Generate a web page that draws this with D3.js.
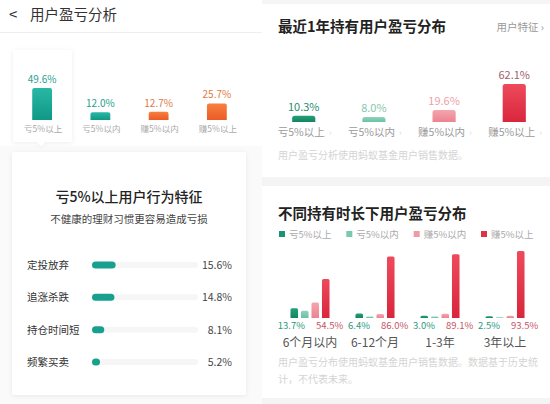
<!DOCTYPE html>
<html>
<head>
<meta charset="utf-8">
<script src="https://cdn.jsdelivr.net/npm/d3@7"></script>
<style>
  body { margin: 0; background: #fff; }
  svg { display: block; font-family: "Noto Sans CJK SC", "Noto Sans", sans-serif; }
</style>
</head>
<body>
<svg id="chart" width="550" height="404"></svg>
<script>
// categories and values
const profitCats = ['亏5%以上', '亏5%以内', '赚5%以内', '赚5%以上'];
const allUserShare = [49.6, 12.0, 12.7, 25.7];
const behaviorLabels = ['定投放弃', '追涨杀跌', '持仓时间短', '频繁买卖'];
const behaviorValues = [15.6, 14.8, 8.1, 5.2];
const yearUserShare = [10.3, 8.0, 19.6, 62.1];
const durationGroups = ['6个月以内', '6-12个月', '1-3年', '3年以上'];
const durLoss5 = [13.7, 6.4, 3.0, 2.5];
const durLossIn = [10.0, 2.0, 2.0, 1.0];
const durGainIn = [21.8, 5.6, 5.9, 3.0];
const durGain5 = [54.5, 86.0, 89.1, 93.5];

const svg = d3.select('#chart');
const defs = svg.append('defs');

function grad(id, top, bottom) {
  const g = defs.append('linearGradient').attr('id', id)
    .attr('x1', 0).attr('y1', 0).attr('x2', 0).attr('y2', 1);
  g.append('stop').attr('offset', '0%').attr('stop-color', top);
  g.append('stop').attr('offset', '100%').attr('stop-color', bottom);
}
grad('gTeal', '#29b8a5', '#0f9886');
grad('gOrange', '#f7803f', '#ec5b26');
grad('gDark', '#24a07c', '#13845f');
grad('gLight', '#8fd3bd', '#6cbfa5');
grad('gPink', '#f4a6ae', '#ec8391');
grad('gRed', '#ee4a5c', '#d9263d');

const shadow = defs.append('filter').attr('id', 'shadow')
  .attr('x', '-10%').attr('y', '-10%').attr('width', '120%').attr('height', '120%');
shadow.append('feDropShadow').attr('dx', 0).attr('dy', 1).attr('stdDeviation', 2.5)
  .attr('flood-color', '#000').attr('flood-opacity', 0.07);

// bar with rounded top corners
function topRounded(x, y, w, h, r) {
  r = Math.min(r, h, w / 2);
  return `M${x},${y + h}V${y + r}Q${x},${y} ${x + r},${y}H${x + w - r}Q${x + w},${y} ${x + w},${y + r}V${y + h}Z`;
}

// ---------- left panel ----------
const left = svg.append('g');
left.append('rect').attr('x', 0).attr('y', 146).attr('width', 262).attr('height', 258).attr('fill', '#fafafa');

left.append('text').attr('x', 9).attr('y', 20).attr('font-size', 15).attr('fill', '#333').text('<');
left.append('text').attr('x', 30).attr('y', 20).attr('font-size', 14.5).attr('fill', '#333').text('用户盈亏分析');
left.append('line').attr('x1', 0).attr('x2', 262).attr('y1', 32.5).attr('y2', 32.5).attr('stroke', '#eee');

// highlight box around first category
left.append('path')
  .attr('d', 'M13,50H72V142H45L41,146L37,142H13Z')
  .attr('fill', '#fff').attr('filter', 'url(#shadow)');

const xTop = d3.scaleBand().domain(profitCats).range([13, 246]).paddingInner(0.66).paddingOuter(0.33);
const hTop = d3.scaleLinear().domain([0, 50]).range([0, 32.3]);
const baseTop = 120;
const topFill = ['url(#gTeal)', 'url(#gTeal)', 'url(#gOrange)', 'url(#gOrange)'];
const topText = ['#26a190', '#26a190', '#dd7a45', '#e07a40'];

left.selectAll('.tbar').data(allUserShare).join('path')
  .attr('d', (d, i) => topRounded(xTop(profitCats[i]), baseTop - hTop(d), xTop.bandwidth(), hTop(d), 2))
  .attr('fill', (d, i) => topFill[i]);
left.selectAll('.tval').data(allUserShare).join('text')
  .attr('x', (d, i) => xTop(profitCats[i]) + xTop.bandwidth() / 2)
  .attr('y', (d) => baseTop - hTop(d) - 5)
  .attr('text-anchor', 'middle').attr('font-size', 10).attr('fill', (d, i) => topText[i])
  .text((d) => d.toFixed(1) + '%');
left.selectAll('.tcat').data(profitCats).join('text')
  .attr('x', (d) => xTop(d) + xTop.bandwidth() / 2 + 1)
  .attr('y', 132).attr('text-anchor', 'middle').attr('font-size', 8.5).attr('fill', '#aaa')
  .text((d) => d);

// behaviour card
left.append('rect').attr('x', 12).attr('y', 152).attr('width', 234).attr('height', 243)
  .attr('rx', 2).attr('fill', '#fff').attr('filter', 'url(#shadow)');
left.append('text').attr('x', 129).attr('y', 202).attr('text-anchor', 'middle')
  .attr('font-size', 14).attr('font-weight', 500).attr('fill', '#222').text('亏5%以上用户行为特征');
left.append('text').attr('x', 129).attr('y', 223).attr('text-anchor', 'middle')
  .attr('font-size', 10.5).attr('fill', '#444').text('不健康的理财习惯更容易造成亏损');

const yRow = d3.scalePoint().domain(behaviorLabels).range([265, 362]);
const wBeh = d3.scaleLinear().domain([0, 70]).range([0, 106]);
const rows = left.selectAll('.row').data(behaviorLabels).join('g')
  .attr('transform', (d) => `translate(0,${yRow(d)})`);
rows.append('text').attr('x', 27).attr('y', 4).attr('font-size', 10.5).attr('fill', '#333').text((d) => d);
rows.append('rect').attr('x', 92).attr('y', -3).attr('width', wBeh(70)).attr('height', 6)
  .attr('rx', 3).attr('fill', '#f6f6f6');
rows.append('rect').attr('x', 92).attr('y', -3.5)
  .attr('width', (d, i) => Math.max(wBeh(behaviorValues[i]), 8)).attr('height', 7)
  .attr('rx', 3.5).attr('fill', '#17a08e');
rows.append('text').attr('x', 232).attr('y', 4).attr('text-anchor', 'end')
  .attr('font-size', 10.5).attr('fill', '#444').text((d, i) => behaviorValues[i].toFixed(1) + '%');

// ---------- right panel ----------
const right = svg.append('g');
right.append('rect').attr('x', 262).attr('y', 0).attr('width', 288).attr('height', 4).attr('fill', '#f5f5f5');
right.append('rect').attr('x', 262).attr('y', 177).attr('width', 288).attr('height', 9).attr('fill', '#f4f4f4');
right.append('rect').attr('x', 262).attr('y', 398).attr('width', 288).attr('height', 6).attr('fill', '#f4f4f4');

right.append('text').attr('x', 278).attr('y', 32).attr('font-size', 14.5).attr('font-weight', 700)
  .attr('fill', '#222').text('最近1年持有用户盈亏分布');
right.append('text').attr('x', 544).attr('y', 31).attr('text-anchor', 'end')
  .attr('font-size', 10.5).attr('fill', '#999').text('用户特征 ›');

const xYear = d3.scaleBand().domain(profitCats).range([269, 549]).paddingInner(0.67).paddingOuter(0.33);
const hYear = d3.scaleLinear().domain([0, 62.1]).range([0, 38]);
const baseYear = 122;
const yearFill = ['url(#gDark)', 'url(#gLight)', 'url(#gPink)', 'url(#gRed)'];
const yearText = ['#2a8c70', '#86c6ae', '#eea0a8', '#a0606c'];

right.selectAll('.ybar').data(yearUserShare).join('path')
  .attr('d', (d, i) => topRounded(xYear(profitCats[i]), baseYear - hYear(d), xYear.bandwidth(), hYear(d), 2.5))
  .attr('fill', (d, i) => yearFill[i]);
right.selectAll('.yval').data(yearUserShare).join('text')
  .attr('x', (d, i) => xYear(profitCats[i]) + xYear.bandwidth() / 2)
  .attr('y', (d) => baseYear - hYear(d) - 5)
  .attr('text-anchor', 'middle').attr('font-size', 11).attr('fill', (d, i) => yearText[i])
  .text((d) => d.toFixed(1) + '%');
const ycat = right.selectAll('.ycat').data(profitCats).join('text')
  .attr('x', (d) => xYear(d) + xYear.bandwidth() / 2 - 26)
  .attr('y', 136).attr('font-size', 10.5).attr('fill', '#999');
ycat.append('tspan').text((d) => d);
ycat.append('tspan').attr('dx', 4).attr('fill', '#ddd').attr('font-size', 9).text('›');

right.append('text').attr('x', 278).attr('y', 159).attr('font-size', 10).attr('fill', '#d4d4d4')
  .text('用户盈亏分析使用蚂蚁基金用户销售数据。');

// grouped chart
right.append('text').attr('x', 278).attr('y', 219).attr('font-size', 14.5).attr('font-weight', 700)
  .attr('fill', '#222').text('不同持有时长下用户盈亏分布');

const legendX = d3.scalePoint().domain(profitCats).range([279, 481]);
const seriesFill = ['#1b9273', '#79c8b0', '#f09aa4', '#de3248'];
const lg = right.selectAll('.lg').data(profitCats).join('g')
  .attr('transform', (d) => `translate(${legendX(d)},234)`);
lg.append('rect').attr('x', 0).attr('y', -3).attr('width', 6).attr('height', 6).attr('fill', (d, i) => seriesFill[i]);
lg.append('text').attr('x', 10).attr('y', 3.5).attr('font-size', 9.5).attr('fill', '#aaa').text((d) => d);

const series = [durLoss5, durLossIn, durGainIn, durGain5];
const seriesFillGrad = ['url(#gDark)', 'url(#gLight)', 'url(#gPink)', 'url(#gRed)'];
const xGroup = d3.scaleBand().domain(durationGroups).range([277.5, 537.5]);
const xInner = d3.scaleBand().domain(d3.range(4)).range([-21, 21]).paddingInner(0.28).paddingOuter(0.14);
const hDur = d3.scaleLinear().domain([0, 100]).range([0, 71.6]);
const baseDur = 318;

const grp = right.selectAll('.grp').data(durationGroups).join('g')
  .attr('transform', (d) => `translate(${xGroup(d) + xGroup.bandwidth() / 2},0)`);
grp.selectAll('path').data((d, gi) => series.map((s, si) => ({ si, v: s[gi] }))).join('path')
  .attr('d', (d) => topRounded(xInner(d.si), baseDur - hDur(d.v), xInner.bandwidth(), hDur(d.v), 1.5))
  .attr('fill', (d) => seriesFillGrad[d.si]);
grp.append('text').attr('x', -5).attr('y', 329).attr('text-anchor', 'end')
  .attr('font-size', 9.5).attr('fill', '#2a9a80').text((d, i) => durLoss5[i].toFixed(1) + '%');
grp.append('text').attr('x', 6).attr('y', 329).attr('text-anchor', 'start')
  .attr('font-size', 9.5).attr('fill', '#c65566').text((d, i) => durGain5[i].toFixed(1) + '%');
grp.append('text').attr('x', 0).attr('y', 347).attr('text-anchor', 'middle')
  .attr('font-size', 12).attr('fill', '#555').text((d) => d);

right.append('text').attr('x', 278).attr('y', 366).attr('font-size', 10).attr('fill', '#d4d4d4')
  .text('用户盈亏分布使用蚂蚁基金用户销售数据。数据基于历史统');
right.append('text').attr('x', 278).attr('y', 383).attr('font-size', 10).attr('fill', '#d4d4d4')
  .text('计，不代表未来。');
</script>
</body>
</html>
